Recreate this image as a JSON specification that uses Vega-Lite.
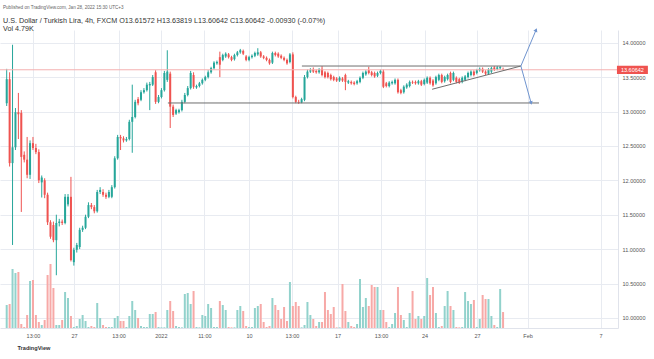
{
"$schema": "https://vega.github.io/schema/vega-lite/v6.json",
"width": 618, "height": 298,
"autosize": {"type": "none"},
"padding": {"left": 0, "top": 30, "right": 36, "bottom": 31},
"background": "#ffffff",
"config": {"view": {"stroke": null}, "font": "Liberation Sans"},
"title": {"text": "Published on TradingView.com, Jan 28, 2022 15:30 UTC+3", "subtitle": ["\u00a0\u00a0U.S. Dollar / Turkish Lira, 4h, FXCM  O13.61572 H13.63819 L13.60642 C13.60642 -0.00930 (-0.07%)", "\u00a0\u00a0Vol 4.79K"], "anchor": "start", "frame": "group", "offset": -4, "dx": 3, "fontSize": 4.6, "fontWeight": "normal", "color": "#666666", "subtitleFontSize": 7.2, "subtitleColor": "#333333", "subtitlePadding": 7, "subtitleLineHeight": 8, "font": "Liberation Sans", "subtitleFont": "Liberation Sans"},
"datasets": {
"candles": [
{"i":0,"o":13.12,"h":13.62,"l":13.08,"c":13.47,"v":6.9},
{"i":1,"o":13.47,"h":13.57,"l":12.20,"c":12.25,"v":7.2},
{"i":2,"o":12.25,"h":13.97,"l":11.06,"c":12.48,"v":17.7},
{"i":3,"o":12.48,"h":13.05,"l":12.44,"c":12.99,"v":16.5},
{"i":4,"o":12.99,"h":13.27,"l":12.60,"c":12.96,"v":16.8},
{"i":5,"o":12.98,"h":13.02,"l":11.54,"c":12.34,"v":1.2},
{"i":6,"o":12.37,"h":12.42,"l":12.26,"c":12.30,"v":0.3},
{"i":7,"o":12.30,"h":12.63,"l":12.03,"c":12.08,"v":3.9},
{"i":8,"o":12.08,"h":12.58,"l":12.02,"c":12.54,"v":14.1},
{"i":9,"o":12.54,"h":12.63,"l":12.44,"c":12.47,"v":14.4},
{"i":10,"o":12.47,"h":12.53,"l":12.38,"c":12.41,"v":3.9},
{"i":11,"o":12.41,"h":12.45,"l":11.96,"c":12.00,"v":1.8},
{"i":12,"o":11.97,"h":12.07,"l":11.75,"c":12.04,"v":0.9},
{"i":13,"o":12.00,"h":12.03,"l":11.74,"c":11.79,"v":2.4},
{"i":14,"o":11.79,"h":11.82,"l":11.35,"c":11.39,"v":15.9},
{"i":15,"o":11.39,"h":11.42,"l":11.15,"c":11.18,"v":19.2},
{"i":16,"o":11.35,"h":11.40,"l":11.10,"c":11.13,"v":12.0},
{"i":17,"o":11.13,"h":11.50,"l":10.62,"c":11.38,"v":0.9},
{"i":18,"o":11.38,"h":11.44,"l":11.33,"c":11.40,"v":0.9},
{"i":19,"o":11.40,"h":11.43,"l":11.35,"c":11.38,"v":2.4},
{"i":20,"o":11.38,"h":11.80,"l":11.36,"c":11.76,"v":10.8},
{"i":21,"o":11.65,"h":11.80,"l":11.62,"c":11.76,"v":9.0},
{"i":22,"o":11.76,"h":12.05,"l":10.82,"c":10.84,"v":3.6},
{"i":23,"o":10.81,"h":11.02,"l":10.76,"c":10.99,"v":0.3},
{"i":24,"o":10.99,"h":11.09,"l":10.95,"c":11.06,"v":0.6},
{"i":25,"o":11.03,"h":11.31,"l":11.00,"c":11.28,"v":2.7},
{"i":26,"o":11.28,"h":11.34,"l":11.25,"c":11.31,"v":3.9},
{"i":27,"o":11.31,"h":11.50,"l":11.29,"c":11.47,"v":2.1},
{"i":28,"o":11.47,"h":11.68,"l":11.45,"c":11.64,"v":0.3},
{"i":29,"o":11.64,"h":11.67,"l":11.58,"c":11.61,"v":0.6},
{"i":30,"o":11.61,"h":11.64,"l":11.52,"c":11.55,"v":0.3},
{"i":31,"o":11.55,"h":11.86,"l":11.53,"c":11.83,"v":7.5},
{"i":32,"o":11.83,"h":11.90,"l":11.80,"c":11.86,"v":3.0},
{"i":33,"o":11.83,"h":11.87,"l":11.76,"c":11.79,"v":0.9},
{"i":34,"o":11.79,"h":11.82,"l":11.73,"c":11.76,"v":0.3},
{"i":35,"o":11.76,"h":11.86,"l":11.74,"c":11.83,"v":0.3},
{"i":36,"o":11.76,"h":11.93,"l":11.74,"c":11.90,"v":0.3},
{"i":37,"o":11.90,"h":12.35,"l":11.88,"c":12.32,"v":3.0},
{"i":38,"o":12.32,"h":12.66,"l":12.30,"c":12.63,"v":3.6},
{"i":39,"o":12.63,"h":12.66,"l":12.44,"c":12.61,"v":2.1},
{"i":40,"o":12.61,"h":12.64,"l":12.55,"c":12.58,"v":2.1},
{"i":41,"o":12.58,"h":12.63,"l":12.56,"c":12.60,"v":0.3},
{"i":42,"o":12.60,"h":12.88,"l":12.58,"c":12.85,"v":3.6},
{"i":43,"o":12.85,"h":13.39,"l":12.40,"c":12.92,"v":8.1},
{"i":44,"o":12.92,"h":13.17,"l":12.90,"c":13.14,"v":5.4},
{"i":45,"o":13.18,"h":13.21,"l":13.09,"c":13.12,"v":3.0},
{"i":46,"o":13.17,"h":13.31,"l":13.15,"c":13.28,"v":0.6},
{"i":47,"o":13.28,"h":13.34,"l":13.26,"c":13.31,"v":0.3},
{"i":48,"o":13.31,"h":13.42,"l":13.29,"c":13.39,"v":0.3},
{"i":49,"o":13.38,"h":13.43,"l":13.02,"c":13.40,"v":4.2},
{"i":50,"o":13.39,"h":13.53,"l":13.37,"c":13.50,"v":4.2},
{"i":51,"o":13.57,"h":13.60,"l":13.11,"c":13.14,"v":4.8},
{"i":52,"o":13.14,"h":13.24,"l":13.12,"c":13.21,"v":0.3},
{"i":53,"o":13.21,"h":13.34,"l":13.19,"c":13.31,"v":0.2},
{"i":54,"o":13.31,"h":13.59,"l":13.29,"c":13.56,"v":0.2},
{"i":55,"o":13.46,"h":13.89,"l":13.43,"c":13.58,"v":5.4},
{"i":56,"o":13.55,"h":13.58,"l":12.76,"c":13.07,"v":8.1},
{"i":57,"o":13.07,"h":13.10,"l":12.92,"c":12.95,"v":5.1},
{"i":58,"o":12.97,"h":13.04,"l":12.95,"c":13.02,"v":0.6},
{"i":59,"o":12.99,"h":13.04,"l":12.97,"c":13.02,"v":0.3},
{"i":60,"o":13.02,"h":13.17,"l":13.00,"c":13.14,"v":0.2},
{"i":61,"o":13.14,"h":13.27,"l":13.12,"c":13.24,"v":10.2},
{"i":62,"o":13.24,"h":13.37,"l":13.22,"c":13.34,"v":10.5},
{"i":63,"o":13.34,"h":13.59,"l":13.32,"c":13.56,"v":7.2},
{"i":64,"o":13.53,"h":13.57,"l":13.33,"c":13.36,"v":11.1},
{"i":65,"o":13.35,"h":13.39,"l":13.33,"c":13.37,"v":0.3},
{"i":66,"o":13.37,"h":13.43,"l":13.35,"c":13.41,"v":0.2},
{"i":67,"o":13.41,"h":13.48,"l":13.39,"c":13.46,"v":3.9},
{"i":68,"o":13.46,"h":13.52,"l":13.44,"c":13.50,"v":3.6},
{"i":69,"o":13.50,"h":13.60,"l":13.48,"c":13.57,"v":7.2},
{"i":70,"o":13.57,"h":13.65,"l":13.55,"c":13.63,"v":6.0},
{"i":71,"o":13.63,"h":13.73,"l":13.61,"c":13.71,"v":0.3},
{"i":72,"o":13.70,"h":13.74,"l":13.68,"c":13.72,"v":0.3},
{"i":73,"o":13.79,"h":13.87,"l":13.50,"c":13.68,"v":8.1},
{"i":74,"o":13.75,"h":13.84,"l":13.73,"c":13.82,"v":6.9},
{"i":75,"o":13.80,"h":13.86,"l":13.78,"c":13.84,"v":5.4},
{"i":76,"o":13.83,"h":13.85,"l":13.77,"c":13.79,"v":0.3},
{"i":77,"o":13.79,"h":13.81,"l":13.73,"c":13.75,"v":0.2},
{"i":78,"o":13.76,"h":13.84,"l":13.74,"c":13.82,"v":0.2},
{"i":79,"o":13.82,"h":13.88,"l":13.80,"c":13.86,"v":5.4},
{"i":80,"o":13.86,"h":13.91,"l":13.84,"c":13.89,"v":6.6},
{"i":81,"o":13.88,"h":13.90,"l":13.82,"c":13.84,"v":5.1},
{"i":82,"o":13.80,"h":13.82,"l":13.73,"c":13.75,"v":0.6},
{"i":83,"o":13.75,"h":13.81,"l":13.73,"c":13.79,"v":0.3},
{"i":84,"o":13.79,"h":13.83,"l":13.77,"c":13.81,"v":0.3},
{"i":85,"o":13.81,"h":13.87,"l":13.79,"c":13.85,"v":6.0},
{"i":86,"o":13.83,"h":13.92,"l":13.81,"c":13.86,"v":6.6},
{"i":87,"o":13.86,"h":13.88,"l":13.78,"c":13.80,"v":7.2},
{"i":88,"o":13.80,"h":13.82,"l":13.76,"c":13.78,"v":1.8},
{"i":89,"o":13.78,"h":13.80,"l":13.73,"c":13.75,"v":0.3},
{"i":90,"o":13.75,"h":13.77,"l":13.68,"c":13.70,"v":0.6},
{"i":91,"o":13.71,"h":13.87,"l":13.69,"c":13.85,"v":9.0},
{"i":92,"o":13.85,"h":13.87,"l":13.80,"c":13.82,"v":6.9},
{"i":93,"o":13.84,"h":13.86,"l":13.78,"c":13.80,"v":5.4},
{"i":94,"o":13.81,"h":13.83,"l":13.76,"c":13.78,"v":2.7},
{"i":95,"o":13.78,"h":13.80,"l":13.73,"c":13.75,"v":6.3},
{"i":96,"o":13.75,"h":13.77,"l":13.68,"c":13.70,"v":2.1},
{"i":97,"o":13.72,"h":13.85,"l":13.70,"c":13.83,"v":13.8},
{"i":98,"o":13.83,"h":13.86,"l":13.19,"c":13.21,"v":6.6},
{"i":99,"o":13.21,"h":13.23,"l":13.12,"c":13.14,"v":7.8},
{"i":100,"o":13.14,"h":13.17,"l":13.11,"c":13.13,"v":6.6},
{"i":101,"o":13.13,"h":13.20,"l":13.12,"c":13.18,"v":0.2},
{"i":102,"o":13.17,"h":13.53,"l":13.15,"c":13.50,"v":0.9},
{"i":103,"o":13.50,"h":13.61,"l":13.48,"c":13.58,"v":7.8},
{"i":104,"o":13.58,"h":13.63,"l":13.56,"c":13.60,"v":3.9},
{"i":105,"o":13.61,"h":13.64,"l":13.56,"c":13.58,"v":2.7},
{"i":106,"o":13.59,"h":13.61,"l":13.55,"c":13.57,"v":0.6},
{"i":107,"o":13.57,"h":13.63,"l":13.55,"c":13.61,"v":1.8},
{"i":108,"o":13.62,"h":13.66,"l":13.51,"c":13.53,"v":1.8},
{"i":109,"o":13.57,"h":13.59,"l":13.48,"c":13.50,"v":10.8},
{"i":110,"o":13.56,"h":13.58,"l":13.48,"c":13.50,"v":5.4},
{"i":111,"o":13.53,"h":13.55,"l":13.45,"c":13.47,"v":4.2},
{"i":112,"o":13.50,"h":13.52,"l":13.44,"c":13.46,"v":6.3},
{"i":113,"o":13.48,"h":13.50,"l":13.43,"c":13.45,"v":0.2},
{"i":114,"o":13.45,"h":13.51,"l":13.43,"c":13.49,"v":0.2},
{"i":115,"o":13.48,"h":13.50,"l":13.43,"c":13.45,"v":13.2},
{"i":116,"o":13.53,"h":13.55,"l":13.31,"c":13.43,"v":5.1},
{"i":117,"o":13.42,"h":13.46,"l":13.40,"c":13.44,"v":1.8},
{"i":118,"o":13.43,"h":13.45,"l":13.39,"c":13.41,"v":0.6},
{"i":119,"o":13.42,"h":13.44,"l":13.38,"c":13.40,"v":0.3},
{"i":120,"o":13.41,"h":13.46,"l":13.39,"c":13.44,"v":1.2},
{"i":121,"o":13.43,"h":13.51,"l":13.41,"c":13.49,"v":14.7},
{"i":122,"o":13.49,"h":13.58,"l":13.47,"c":13.56,"v":6.3},
{"i":123,"o":13.54,"h":13.60,"l":13.52,"c":13.58,"v":9.0},
{"i":124,"o":13.60,"h":13.65,"l":13.54,"c":13.56,"v":6.6},
{"i":125,"o":13.57,"h":13.59,"l":13.51,"c":13.53,"v":12.9},
{"i":126,"o":13.56,"h":13.58,"l":13.49,"c":13.51,"v":12.3},
{"i":127,"o":13.52,"h":13.58,"l":13.50,"c":13.56,"v":12.3},
{"i":128,"o":13.56,"h":13.61,"l":13.54,"c":13.59,"v":5.4},
{"i":129,"o":13.58,"h":13.61,"l":13.34,"c":13.36,"v":5.4},
{"i":130,"o":13.41,"h":13.43,"l":13.35,"c":13.37,"v":1.8},
{"i":131,"o":13.37,"h":13.44,"l":13.35,"c":13.42,"v":0.3},
{"i":132,"o":13.41,"h":13.45,"l":13.39,"c":13.43,"v":1.2},
{"i":133,"o":13.41,"h":13.48,"l":13.39,"c":13.46,"v":4.5},
{"i":134,"o":13.46,"h":13.48,"l":13.26,"c":13.28,"v":12.3},
{"i":135,"o":13.31,"h":13.33,"l":13.25,"c":13.27,"v":3.9},
{"i":136,"o":13.28,"h":13.38,"l":13.26,"c":13.36,"v":2.4},
{"i":137,"o":13.35,"h":13.41,"l":13.33,"c":13.39,"v":0.3},
{"i":138,"o":13.37,"h":13.45,"l":13.35,"c":13.43,"v":4.5},
{"i":139,"o":13.43,"h":13.45,"l":13.40,"c":13.42,"v":11.1},
{"i":140,"o":13.43,"h":13.45,"l":13.39,"c":13.41,"v":2.7},
{"i":141,"o":13.41,"h":13.46,"l":13.39,"c":13.44,"v":3.6},
{"i":142,"o":13.44,"h":13.46,"l":13.37,"c":13.39,"v":2.7},
{"i":143,"o":13.40,"h":13.48,"l":13.38,"c":13.46,"v":3.6},
{"i":144,"o":13.42,"h":13.51,"l":13.40,"c":13.49,"v":15.0},
{"i":145,"o":13.49,"h":13.51,"l":13.39,"c":13.41,"v":9.9},
{"i":146,"o":13.45,"h":13.47,"l":13.36,"c":13.38,"v":12.3},
{"i":147,"o":13.41,"h":13.52,"l":13.39,"c":13.50,"v":4.5},
{"i":148,"o":13.46,"h":13.55,"l":13.44,"c":13.53,"v":0.3},
{"i":149,"o":13.53,"h":13.55,"l":13.41,"c":13.43,"v":0.6},
{"i":150,"o":13.44,"h":13.52,"l":13.42,"c":13.50,"v":6.6},
{"i":151,"o":13.47,"h":13.55,"l":13.45,"c":13.53,"v":11.1},
{"i":152,"o":13.56,"h":13.58,"l":13.41,"c":13.43,"v":6.6},
{"i":153,"o":13.46,"h":13.58,"l":13.44,"c":13.56,"v":5.4},
{"i":154,"o":13.49,"h":13.51,"l":13.41,"c":13.43,"v":0.3},
{"i":155,"o":13.47,"h":13.49,"l":13.40,"c":13.42,"v":0.2},
{"i":156,"o":13.43,"h":13.51,"l":13.41,"c":13.49,"v":0.3},
{"i":157,"o":13.46,"h":13.53,"l":13.44,"c":13.51,"v":10.8},
{"i":158,"o":13.50,"h":13.58,"l":13.48,"c":13.56,"v":8.1},
{"i":159,"o":13.53,"h":13.60,"l":13.51,"c":13.58,"v":7.2},
{"i":160,"o":13.58,"h":13.60,"l":13.51,"c":13.53,"v":8.4},
{"i":161,"o":13.56,"h":13.62,"l":13.54,"c":13.60,"v":0.3},
{"i":162,"o":13.60,"h":13.64,"l":13.58,"c":13.62,"v":2.7},
{"i":163,"o":13.62,"h":13.64,"l":13.56,"c":13.58,"v":9.9},
{"i":164,"o":13.58,"h":13.60,"l":13.53,"c":13.55,"v":8.7},
{"i":165,"o":13.55,"h":13.63,"l":13.53,"c":13.61,"v":8.7},
{"i":166,"o":13.58,"h":13.65,"l":13.56,"c":13.63,"v":3.6},
{"i":167,"o":13.64,"h":13.66,"l":13.59,"c":13.61,"v":0.9},
{"i":168,"o":13.62,"h":13.66,"l":13.60,"c":13.64,"v":0.3},
{"i":169,"o":13.63,"h":13.66,"l":13.61,"c":13.645,"v":11.7},
{"i":170,"o":13.61572,"h":13.63819,"l":13.60642,"c":13.60642,"v":4.79}
],
"pattern": [
{"seg":"top","i":101.1,"p":13.661},{"seg":"top","i":176.1,"p":13.661},
{"seg":"bottom","i":55.2,"p":13.124},{"seg":"bottom","i":182.3,"p":13.124},
{"seg":"rise","i":145.7,"p":13.323},{"seg":"rise","i":176.1,"p":13.661}
],
"arrows": [
{"seg":"up","i":176.1,"p":13.661,"end":0},{"seg":"up","i":181.3,"p":14.185,"end":1},
{"seg":"down","i":176.1,"p":13.661,"end":0},{"seg":"down","i":179.6,"p":13.124,"end":1}
],
"last": [{"price": 13.60642}]
},
"layer": [
{
"data": {"name": "candles"},
"mark": {"type": "rule", "strokeWidth": 2},
"encoding": {
"x": {"field": "i", "type": "quantitative", "scale": {"domain": [-2.295, 209.36], "nice": false, "zero": false},
"axis": {"values": [9, 23.05, 38.3, 52.8, 67.7, 83, 97.7, 113.3, 128.2, 143.1, 161.1, 178.4, 203.4],
"labelExpr": "['13:00','27','13:00','2022','11:00','10','13:00','17','13:00','24','27','Feb','7'][indexof([9, 23.05, 38.3, 52.8, 67.7, 83, 97.7, 113.3, 128.2, 143.1, 161.1, 178.4, 203.4], datum.value)]",
"grid": true, "gridColor": "#e8ebf1", "domainColor": "#e0e3eb", "ticks": false, "labelFontSize": 5.5, "labelColor": "#555555", "labelPadding": 5, "labelFlush": false, "labelOverlap": false,
"title": "TradingView", "titleFontSize": 5.6, "titleFontWeight": "bold", "titleColor": "#333333", "titleAlign": "left", "titleAnchor": null, "titleX": 17, "titleY": 19, "titleBaseline": "middle"}},
"y": {"field": "v", "type": "quantitative", "scale": {"domain": [0, 89.4], "nice": false, "zero": false}, "axis": {"labels": false, "ticks": false, "domain": false, "grid": false, "title": null}},
"y2": {"datum": 0},
"color": {"condition": {"test": "datum.c >= datum.o", "value": "#92d2cc"}, "value": "#f7a9a7"}
}
},
{
"layer": [
{
"data": {"name": "candles"},
"mark": {"type": "rule", "strokeWidth": 1},
"encoding": {
"x": {"field": "i", "type": "quantitative"},
"y": {"field": "l", "type": "quantitative", "scale": {"domain": [9.8532, 14.1846], "nice": false, "zero": false},
"axis": {"orient": "right", "values": [10, 10.5, 11, 11.5, 12, 12.5, 13, 13.5, 14], "tickCount": 9, "format": ".5f", "grid": true, "gridColor": "#e8ebf1", "domainColor": "#e0e3eb", "ticks": false, "labelFontSize": 5.5, "labelColor": "#555555", "labelPadding": 4, "title": null, "labelFlush": false, "labelOverlap": false}},
"y2": {"field": "h"},
"color": {"condition": {"test": "datum.c >= datum.o", "value": "#26a69a"}, "value": "#ef5350"}
}
},
{
"data": {"name": "candles"},
"mark": {"type": "rule", "strokeWidth": 2},
"encoding": {
"x": {"field": "i", "type": "quantitative"},
"y": {"field": "o", "type": "quantitative",
"axis": {"orient": "right", "values": [10, 10.5, 11, 11.5, 12, 12.5, 13, 13.5, 14], "tickCount": 9, "format": ".5f", "grid": true, "gridColor": "#e8ebf1", "domainColor": "#e0e3eb", "ticks": false, "labelFontSize": 5.5, "labelColor": "#555555", "labelPadding": 4, "title": null, "labelFlush": false, "labelOverlap": false}},
"y2": {"field": "c"},
"color": {"condition": {"test": "datum.c >= datum.o", "value": "#26a69a"}, "value": "#ef5350"}
}
},
{
"data": {"name": "last"},
"mark": {"type": "rule", "strokeWidth": 1, "color": "#f4b0b0"},
"encoding": {"y": {"field": "price", "type": "quantitative"}}
},
{
"data": {"name": "pattern"},
"mark": {"type": "line", "strokeWidth": 1, "color": "#6e6e6e"},
"encoding": {
"x": {"field": "i", "type": "quantitative"},
"y": {"field": "p", "type": "quantitative"},
"detail": {"field": "seg"}
}
},
{
"data": {"name": "arrows"},
"mark": {"type": "line", "strokeWidth": 1, "color": "#6f94cf"},
"encoding": {
"x": {"field": "i", "type": "quantitative"},
"y": {"field": "p", "type": "quantitative"},
"detail": {"field": "seg"}
}
},
{
"data": {"name": "arrows"},
"transform": [{"filter": "datum.seg == 'up' && datum.end == 1"}],
"mark": {"type": "point", "shape": "triangle-up", "angle": 23, "filled": true, "size": 18, "color": "#6f94cf", "opacity": 1},
"encoding": {
"x": {"field": "i", "type": "quantitative"},
"y": {"field": "p", "type": "quantitative"}
}
},
{
"data": {"name": "arrows"},
"transform": [{"filter": "datum.seg == 'down' && datum.end == 1"}],
"mark": {"type": "point", "shape": "triangle-down", "angle": -15, "filled": true, "size": 18, "color": "#6f94cf", "opacity": 1},
"encoding": {
"x": {"field": "i", "type": "quantitative"},
"y": {"field": "p", "type": "quantitative"}
}
},
{
"data": {"name": "last"},
"mark": {"type": "rect", "color": "#ef5350"},
"encoding": {
"x": {"datum": 209.0, "type": "quantitative"},
"x2": {"datum": 219.6},
"y": {"datum": 13.665, "type": "quantitative"},
"y2": {"datum": 13.545}
}
},
{
"data": {"name": "last"},
"mark": {"type": "text", "color": "#ffffff", "fontSize": 5.5, "align": "center", "baseline": "middle"},
"encoding": {
"x": {"datum": 214.3, "type": "quantitative"},
"y": {"field": "price", "type": "quantitative"},
"text": {"field": "price", "type": "quantitative", "format": ".5f"}
}
}
]
}
],
"resolve": {"scale": {"y": "independent"}}
}
